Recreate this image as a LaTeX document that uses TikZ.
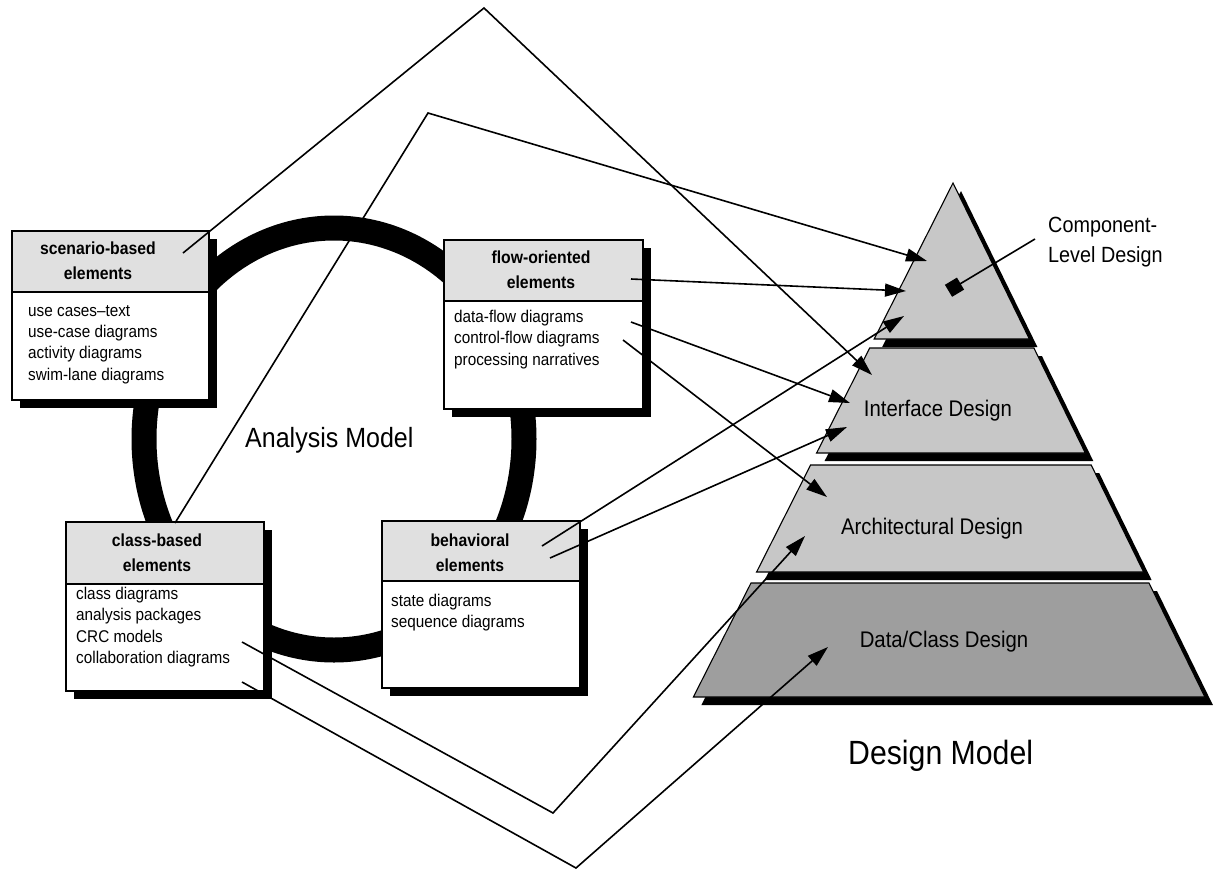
\documentclass[tikz,border=0pt]{standalone}
\usepackage{fontspec}
\setmainfont{Liberation Sans}[FakeStretch=0.9]
\usetikzlibrary{arrows.meta,calc}
\begin{document}
\begin{tikzpicture}[x=1pt,y=-1pt,
  every node/.style={inner sep=0pt},
  shad/.style={fill=black, draw=none},
  boxbody/.style={draw=black, fill=white, line width=1.4pt},
  boxhead/.style={draw=black, fill=black!12, line width=1.4pt},
  hdrtext/.style={font=\bfseries\fontsize{17.5}{25}\selectfont, align=center},
  bodytext/.style={font=\fontsize{17}{21.3}\selectfont, align=left, anchor=north west},
  layer/.style={draw=black, line width=1.1pt, fill=black!22},
  layerdark/.style={draw=black, line width=1.1pt, fill=black!38},
  laytext/.style={font=\fontsize{22.6}{27}\selectfont},
  bigtext/.style={anchor=base west},
  conn/.style={line width=1.6pt, line join=miter},
  arr/.style={conn, -{Triangle[length=21pt,width=13pt]}},
]
\fill[white] (0,0) rectangle (1219,871);
\useasboundingbox (0,0) rectangle (1219,871);

% ring of the analysis model
\draw[line width=25pt] (334,439) ellipse [x radius=190, y radius=211];

% scenario-based box
\fill[shad] (20,239) rectangle (217,408);
\draw[boxbody] (12,231) rectangle (209,400);
\draw[boxhead] (12,231) rectangle (209,292);
\node[hdrtext] (sch) at (98,261) {scenario-based\\elements};
\node[bodytext] (scb) at (28,305) {use cases–text\\use-case diagrams\\activity diagrams\\swim-lane diagrams};

% flow-oriented box
\fill[shad] (452,248) rectangle (651,417);
\draw[boxbody] (444,240) rectangle (643,409);
\draw[boxhead] (444,240) rectangle (643,301);
\node[hdrtext] (flh) at (541,270) {flow-oriented\\elements};
\node[bodytext] (flb) at (454,310) {data-flow diagrams\\control-flow diagrams\\processing narratives};

% class-based box
\fill[shad] (74,530) rectangle (272,699);
\draw[boxbody] (66,522) rectangle (264,691);
\draw[boxhead] (66,522) rectangle (264,584);
\node[hdrtext] (clh) at (157,553) {class-based\\elements};
\node[bodytext] (clb) at (76,587) {class diagrams\\analysis packages\\CRC models\\collaboration diagrams};

% behavioral box
\fill[shad] (390,529) rectangle (588,696);
\draw[boxbody] (382,521) rectangle (580,688);
\draw[boxhead] (382,521) rectangle (580,581);
\node[hdrtext] (beh) at (470,553) {behavioral\\elements};
\node[bodytext] (beb) at (391,594) {state diagrams\\sequence diagrams};

\node[bigtext, font=\fontsize{27.8}{32}\selectfont] (am) at (245,447) {Analysis Model};

% pyramid
\begin{scope}[shift={(8,8)}]
\fill[shad] (953,183) -- (1029.4,339) -- (874.2,339) -- cycle;
\fill[shad] (869.7,348) -- (1033.9,348) -- (1085.3,453) -- (816.6,453) -- cycle;
\fill[shad] (810.6,465) -- (1091.2,465) -- (1143.6,572) -- (756.6,572) -- cycle;
\fill[shad] (751,583) -- (1149,583) -- (1204.9,697) -- (693.4,697) -- cycle;
\end{scope}
\draw[layer] (953,183) -- (1029.4,339) -- (874.2,339) -- cycle;
\draw[layer] (869.7,348) -- (1033.9,348) -- (1085.3,453) -- (816.6,453) -- cycle;
\draw[layer] (810.6,465) -- (1091.2,465) -- (1143.6,572) -- (756.6,572) -- cycle;
\draw[layerdark] (751,583) -- (1149,583) -- (1204.9,697) -- (693.4,697) -- cycle;

\node[laytext] (ifd) at (938,411) {Interface Design};
\node[laytext] (ard) at (932,529) {Architectural Design};
\node[laytext] (dcd) at (944,642) {Data/Class Design};
\node[bigtext, font=\fontsize{33.6}{40}\selectfont] (dm) at (848,764) {Design Model};
\node[font=\fontsize{22}{30}\selectfont, align=left, anchor=north west] (comp) at (1048,217) {Component-\\Level Design};

% connector points
\coordinate (s1) at (183,253);
\coordinate (top1) at (484,8);
\coordinate (t1) at (872,375);
\coordinate (c1) at (175,523);
\coordinate (top2) at (428,113);
\coordinate (t2) at (927,261);
\coordinate (f1) at (631,279);
\coordinate (t3) at (906,291);
\coordinate (b1) at (542,546);
\coordinate (t4) at (904,316);
\coordinate (f2) at (631,322);
\coordinate (t5) at (850,403);
\coordinate (b2) at (550,558);
\coordinate (t6) at (847,427);
\coordinate (f3) at (623,340);
\coordinate (t7) at (827,497);
\coordinate (c2) at (242,642);
\coordinate (v1) at (553,813);
\coordinate (t8) at (805,536);
\coordinate (c3) at (242,682);
\coordinate (v2) at (576,868);
\coordinate (t9) at (828,647);
\coordinate (cdl) at (1035,239);
\coordinate (cdd) at (948.5,290.8);

% connectors
\draw[arr] (s1) -- (top1) -- (t1);
\draw[arr] (c1) -- (top2) -- (t2);
\draw[arr] (f1) -- (t3);
\draw[arr] (b1) -- (t4);
\draw[arr] (f2) -- (t5);
\draw[arr] (b2) -- (t6);
\draw[arr] (f3) -- (t7);
\draw[arr] (c2) -- (v1) -- (t8);
\draw[arr] (c3) -- (v2) -- (t9);
\draw[conn, -{Square[length=14pt,width=14pt]}] (cdl) -- (cdd);
\end{tikzpicture}
\end{document}
